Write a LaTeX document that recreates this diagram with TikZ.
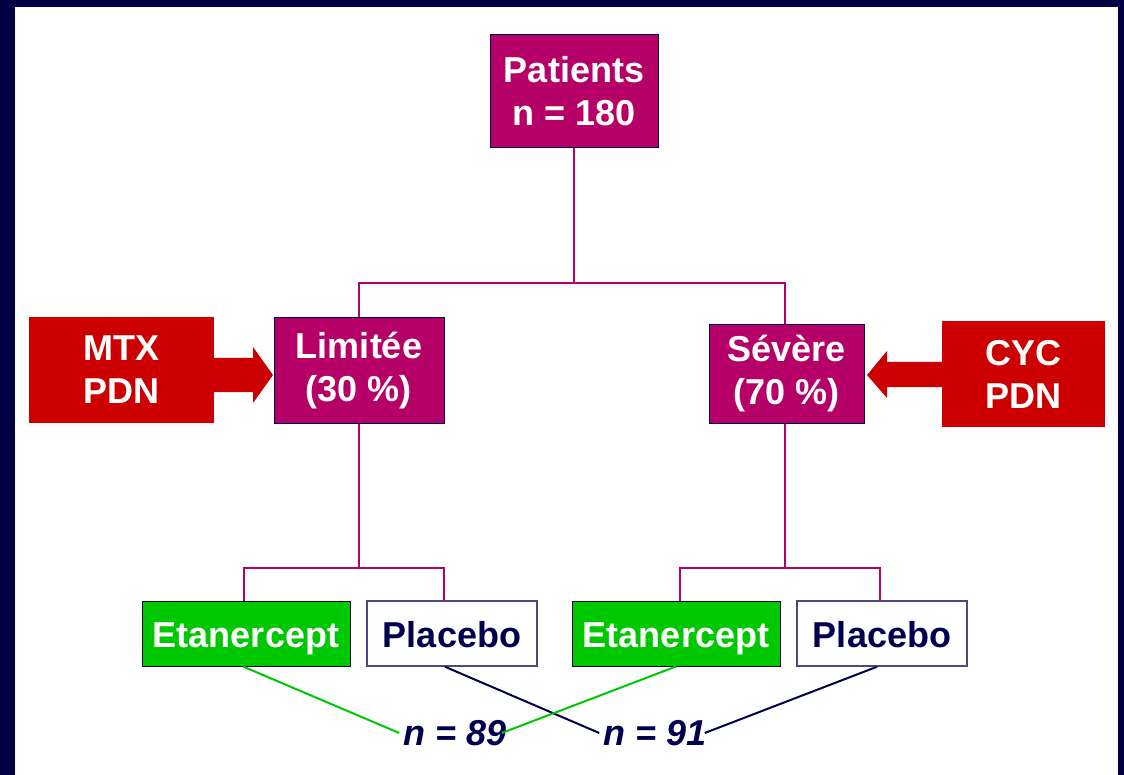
\documentclass[tikz,border=0pt]{standalone}
\usepackage{fontspec}
\setmainfont{Liberation Sans}
\definecolor{frame}{HTML}{000042}
\definecolor{navy}{HTML}{000050}
\definecolor{mag}{HTML}{B50068}
\definecolor{redb}{HTML}{CC0000}
\definecolor{greenb}{HTML}{00C800}
\definecolor{boxline}{HTML}{4A4A80}
\begin{document}
\begin{tikzpicture}[x=1pt,y=-1pt,
  txt/.style={font=\fontsize{36}{43}\selectfont\bfseries, align=center, inner sep=0pt},
  box/.style={txt, rectangle, draw=navy, line width=1pt, anchor=center},
  magbox/.style={box, fill=mag, text=white},
  redbox/.style={txt, rectangle, fill=redb, text=white},
  greenbox/.style={box, fill=greenb, text=white},
  whitebox/.style={box, draw=boxline, line width=1.5pt, fill=white, text=navy},
  lowtext/.style={text height=30pt, text depth=2pt},
  conn/.style={draw=mag, line width=2pt},
  gline/.style={draw=greenb, line width=2pt},
  nline/.style={draw=navy, line width=2pt},
  nlabel/.style={font=\fontsize{36}{40}\selectfont\bfseries\itshape, text=navy, inner sep=0pt}
]
\useasboundingbox (0,0) rectangle (1124,775);
\fill[frame] (0,0) rectangle (1124,775);
\fill[white] (15,7) rectangle (1118,776);

\node[magbox, minimum width=168pt, minimum height=113pt] (pat) at (574,91.5) {Patients\\n = 180};
\node[magbox, minimum width=170pt, minimum height=105pt] (lim) at (359,370.5) {Limitée\\(30 \%)};
\node[magbox, minimum width=155pt, minimum height=98pt] (sev) at (786.5,374) {Sévère\\(70 \%)};
\node[redbox, minimum width=185pt, minimum height=106pt] (mtx) at (121.5,370) {MTX\\PDN};
\node[redbox, minimum width=163pt, minimum height=106pt] (cyc) at (1023.5,374) {CYC\\PDN};

\node[greenbox, lowtext, minimum width=208pt, minimum height=65pt] (eta1) at (246,633.5) {Etanercept};
\node[whitebox, lowtext, minimum width=170pt, minimum height=65pt] (pla1) at (452,633.5) {Placebo};
\node[greenbox, lowtext, minimum width=208pt, minimum height=65pt] (eta2) at (676,633.5) {Etanercept};
\node[whitebox, lowtext, minimum width=170pt, minimum height=65pt] (pla2) at (882,633.5) {Placebo};

\node[nlabel] (n89) at (455,733) {n = 89};
\node[nlabel] (n91) at (655,733) {n = 91};

% block arrows
\fill[redb] (mtx.east |- 0,358) -- (253,358) -- (253,347) -- (273,375) -- (253,403) -- (253,392) -- (mtx.east |- 0,392) -- cycle;
\fill[redb] (cyc.west |- 0,362) -- (887,362) -- (887,351) -- (867,375) -- (887,398) -- (887,387) -- (cyc.west |- 0,387) -- cycle;

% tree connectors
\coordinate (j0) at (574,283);
\coordinate (j1) at (359,568);
\coordinate (j2) at (785,568);
\draw[conn] (pat.south) -- (j0);
\draw[conn] (j0) -| (lim.north);
\draw[conn] (j0) -| (sev.north -| j2);
\draw[conn] (lim.south) -- (j1);
\draw[conn] (j1) -| ([xshift=-2pt]eta1.north);
\draw[conn] (j1) -| ([xshift=-8pt]pla1.north);
\draw[conn] (sev.south -| j2) -- (j2);
\draw[conn] (j2) -| ([xshift=4pt]eta2.north);
\draw[conn] (j2) -| ([xshift=-2pt]pla2.north);

% crossing lines
\draw[gline] ([xshift=-3pt]eta1.south) -- ([xshift=-4pt]n89.west);
\draw[nline] ([xshift=-7pt]pla1.south) -- ([xshift=-4pt]n91.west);
\draw[gline] (eta2.south) -- ([xshift=-5pt]n89.east);
\draw[nline] ([xshift=-5pt]pla2.south) -- ([xshift=-2pt]n91.east);
\end{tikzpicture}
\end{document}
